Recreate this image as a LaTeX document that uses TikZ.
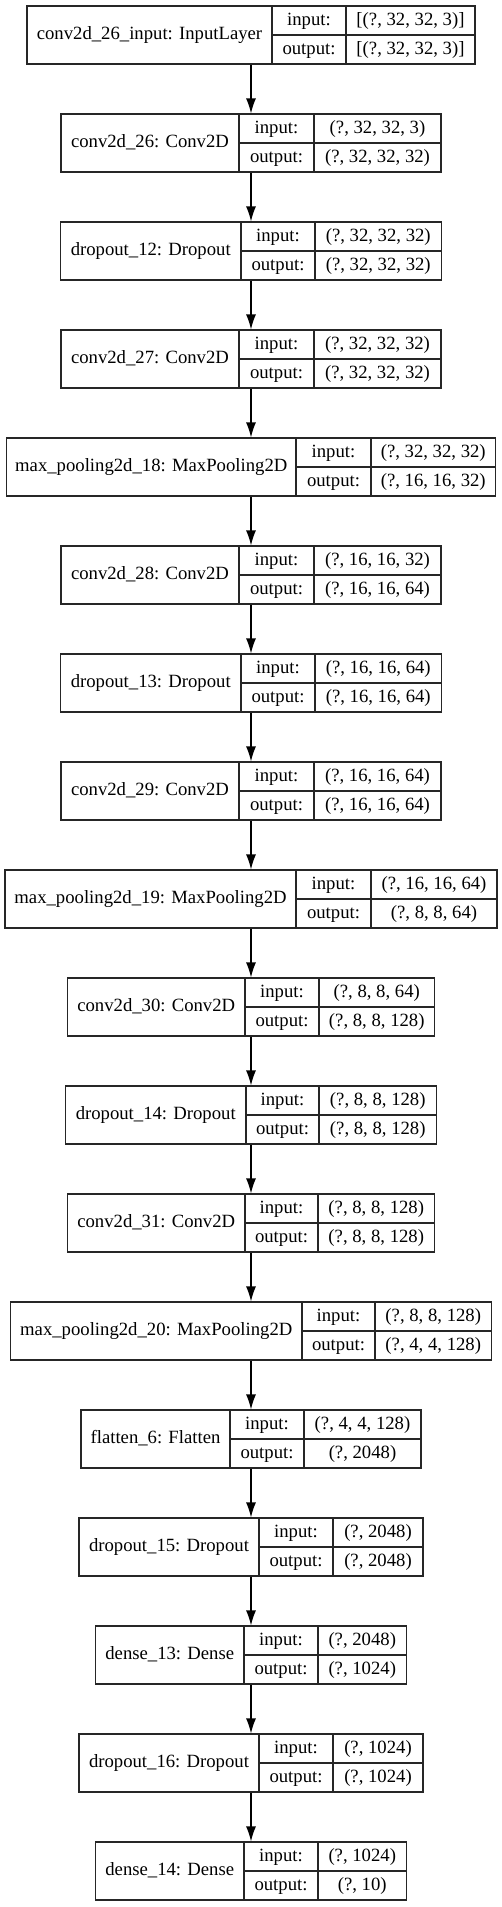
\documentclass[tikz,border=0pt]{standalone}
\usepackage{fontspec}
\setmainfont{Liberation Serif}
\usetikzlibrary{arrows.meta}

% one record: name, y of centre, width, x of the two inner rules, label, input, output
\newcommand{\layer}[8]{%
  \node[layerbox, minimum width=#3pt] (#1) at (251,#2) {};
  \draw[cellline] (#4,#2-29) -- (#4,#2+29);
  \draw[cellline] (#5,#2-29) -- (#5,#2+29);
  \draw[cellline] (#4,#2) -- (251+#3/2,#2);
  \node[celltext] (#1-name) at ({(251-#3/2+#4)/2},#2) {#6};
  \node[celltext] (#1-inlbl) at ({(#4+#5)/2},#2-14.5) {input:};
  \node[celltext] (#1-in) at ({(#5+251+#3/2)/2},#2-14.5) {#7};
  \node[celltext] (#1-outlbl) at ({(#4+#5)/2},#2+14.5) {output:};
  \node[celltext] (#1-out) at ({(#5+251+#3/2)/2},#2+14.5) {#8};
}

\begin{document}
\begin{tikzpicture}[x=1pt, y=-1pt]

\tikzstyle{layerbox}=[shape=rectangle, draw=black!85, line width=1.2pt,
    minimum height=58pt, inner sep=0pt]
\tikzstyle{cellline}=[draw=black!85, line width=1.2pt]
\tikzstyle{celltext}=[inner sep=0pt, text height=13pt, text depth=4pt,
    font=\fontsize{18.7}{22}\selectfont]
\tikzstyle{flow}=[->, >={Latex[length=15pt,width=10pt]}, line width=1.2pt]

\useasboundingbox (0,0) rectangle (502,1907);

  \layer{input}{35}{448}{272}{346}{conv2d\_26\_input: InputLayer}{[(?, 32, 32, 3)]}{[(?, 32, 32, 3)]}
  \layer{conv26}{143}{380}{239}{314}{conv2d\_26: Conv2D}{(?, 32, 32, 3)}{(?, 32, 32, 32)}
  \layer{drop12}{251}{381}{241}{315}{dropout\_12: Dropout}{(?, 32, 32, 32)}{(?, 32, 32, 32)}
  \layer{conv27}{359}{380}{239}{314}{conv2d\_27: Conv2D}{(?, 32, 32, 32)}{(?, 32, 32, 32)}
  \layer{pool18}{467}{489}{296}{371}{max\_pooling2d\_18: MaxPooling2D}{(?, 32, 32, 32)}{(?, 16, 16, 32)}
  \layer{conv28}{575}{380}{239}{314}{conv2d\_28: Conv2D}{(?, 16, 16, 32)}{(?, 16, 16, 64)}
  \layer{drop13}{683}{381}{241}{315}{dropout\_13: Dropout}{(?, 16, 16, 64)}{(?, 16, 16, 64)}
  \layer{conv29}{791}{380}{239}{314}{conv2d\_29: Conv2D}{(?, 16, 16, 64)}{(?, 16, 16, 64)}
  \layer{pool19}{899}{492}{296}{371}{max\_pooling2d\_19: MaxPooling2D}{(?, 16, 16, 64)}{(?, 8, 8, 64)}
  \layer{conv30}{1007}{367}{245}{319}{conv2d\_30: Conv2D}{(?, 8, 8, 64)}{(?, 8, 8, 128)}
  \layer{drop14}{1115}{371}{246}{319}{dropout\_14: Dropout}{(?, 8, 8, 128)}{(?, 8, 8, 128)}
  \layer{conv31}{1223}{367}{245}{318}{conv2d\_31: Conv2D}{(?, 8, 8, 128)}{(?, 8, 8, 128)}
  \layer{pool20}{1331}{481}{302}{375}{max\_pooling2d\_20: MaxPooling2D}{(?, 8, 8, 128)}{(?, 4, 4, 128)}
  \layer{flat6}{1439}{340}{230}{304}{flatten\_6: Flatten}{(?, 4, 4, 128)}{(?, 2048)}
  \layer{drop15}{1547}{344}{259}{333}{dropout\_15: Dropout}{(?, 2048)}{(?, 2048)}
  \layer{dense13}{1655}{311}{244}{318}{dense\_13: Dense}{(?, 2048)}{(?, 1024)}
  \layer{drop16}{1763}{344}{259}{333}{dropout\_16: Dropout}{(?, 1024)}{(?, 1024)}
  \layer{dense14}{1871}{311}{244}{318}{dense\_14: Dense}{(?, 1024)}{(?, 10)}

  \draw[flow] (input) -- (conv26);
  \draw[flow] (conv26) -- (drop12);
  \draw[flow] (drop12) -- (conv27);
  \draw[flow] (conv27) -- (pool18);
  \draw[flow] (pool18) -- (conv28);
  \draw[flow] (conv28) -- (drop13);
  \draw[flow] (drop13) -- (conv29);
  \draw[flow] (conv29) -- (pool19);
  \draw[flow] (pool19) -- (conv30);
  \draw[flow] (conv30) -- (drop14);
  \draw[flow] (drop14) -- (conv31);
  \draw[flow] (conv31) -- (pool20);
  \draw[flow] (pool20) -- (flat6);
  \draw[flow] (flat6) -- (drop15);
  \draw[flow] (drop15) -- (dense13);
  \draw[flow] (dense13) -- (drop16);
  \draw[flow] (drop16) -- (dense14);

\end{tikzpicture}
\end{document}
